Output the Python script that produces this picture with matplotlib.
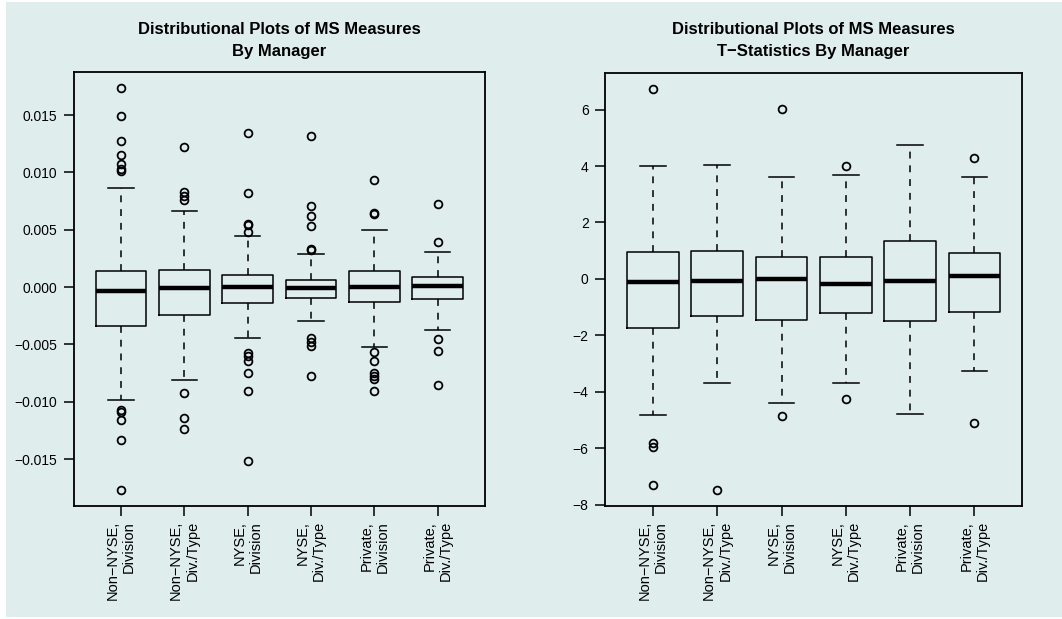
import numpy as np
import matplotlib
matplotlib.use("Agg")
import matplotlib.pyplot as plt
from matplotlib.patches import Rectangle

plt.rcParams['font.family'] = ['Liberation Sans', 'DejaVu Sans']

groups = ["Non\u2212NYSE,\nDivision", "Non\u2212NYSE,\nDiv./Type", "NYSE,\nDivision",
          "NYSE,\nDiv./Type", "Private,\nDivision", "Private,\nDiv./Type"]

# MS measures: five-number summaries and outliers per group
ms_whislo = [-0.00982, -0.00813, -0.00441, -0.00295, -0.00522, -0.00373]
ms_q1     = [-0.00338, -0.00242, -0.00143, -0.00091, -0.00131, -0.00108]
ms_med    = [-0.00038, -0.00012,  0.00000, -0.00012,  0.00000,  0.00005]
ms_q3     = [ 0.00142,  0.00149,  0.00105,  0.00066,  0.00140,  0.00084]
ms_whishi = [ 0.00865,  0.00667,  0.00446,  0.00288,  0.00501,  0.00309]
ms_fliers = [
    [0.01733, 0.01495, 0.01276, 0.01154, 0.01072, 0.01030, 0.01011,
     -0.01073, -0.01090, -0.01157, -0.01335, -0.01769],
    [0.01218, 0.00830, 0.00792, 0.00760, -0.00924, -0.01140, -0.01236],
    [0.01340, 0.00822, 0.00553, 0.00539, 0.00481,
     -0.00577, -0.00598, -0.00644, -0.00752, -0.00907, -0.01521],
    [0.01314, 0.00705, 0.00617, 0.00533, 0.00332, 0.00320,
     -0.00441, -0.00475, -0.00510, -0.00778],
    [0.00935, 0.00641, 0.00645,
     -0.00568, -0.00644, -0.00752, -0.00775, -0.00800, -0.00909],
    [0.00728, 0.00390, -0.00449, -0.00557, -0.00854],
]

# T-statistics of MS measures
ts_whislo = [-4.82, -3.68, -4.40, -3.68, -4.78, -3.28]
ts_q1     = [-1.74, -1.31, -1.44, -1.21, -1.49, -1.16]
ts_med    = [-0.10, -0.08, -0.02, -0.18, -0.08,  0.10]
ts_q3     = [ 0.97,  0.98,  0.76,  0.77,  1.36,  0.92]
ts_whishi = [ 4.00,  4.04,  3.62,  3.67,  4.75,  3.61]
ts_fliers = [
    [6.74, -5.83, -5.95, -7.29],
    [-7.48],
    [6.02, -4.87],
    [4.01, -4.25],
    [],
    [4.28, -5.10],
]


def make_stats(lo, q1, med, q3, hi, fl):
    return [dict(whislo=a, q1=b, med=c, q3=d, whishi=e, fliers=f)
            for a, b, c, d, e, f in zip(lo, q1, med, q3, hi, fl)]


def draw_panel(ax, stats, title, yticks, ylabels):
    ax.set_facecolor('none')
    ax.bxp(stats, positions=range(1, 7), widths=0.8, capwidths=0.4,
           boxprops=dict(color='black', linewidth=1.1),
           medianprops=dict(color='black', linewidth=3.2, solid_capstyle='butt'),
           whiskerprops=dict(color='black', linewidth=1.1, linestyle=(0, (4.5, 4.5))),
           capprops=dict(color='black', linewidth=1.1),
           flierprops=dict(marker='o', markerfacecolor='none', markeredgecolor='black',
                           markersize=5.6, markeredgewidth=1.3),
           manage_ticks=False)
    vals = []
    for s in stats:
        vals += [s['whislo'], s['whishi']] + list(s['fliers'])
    lo, hi = min(vals), max(vals)
    pad = 0.04 * (hi - lo)
    ax.set_ylim(lo - pad, hi + pad)
    ax.set_xlim(0.26, 6.74)
    ax.set_xticks(range(1, 7))
    ax.set_xticklabels(groups, rotation=90, ha='center', va='top',
                       multialignment='right', fontsize=10.5, linespacing=1.2)
    ax.set_yticks(yticks)
    ax.set_yticklabels(ylabels, fontsize=10)
    ax.tick_params(axis='both', direction='out', length=7, width=1.1, color='black')
    ax.tick_params(axis='x', pad=4)
    ax.tick_params(axis='y', pad=5)
    for sp in ax.spines.values():
        sp.set_linewidth(1.3)
    ax.set_title(title, fontsize=12, fontweight='bold', pad=12, linespacing=1.55)


fig = plt.figure(figsize=(10.62, 6.19), dpi=100, facecolor='white')
fig.patches.append(Rectangle((6 / 1062, 2 / 619), 1 - 6 / 1062, 1 - 4 / 619,
                             transform=fig.transFigure, facecolor='#e0eded',
                             edgecolor='none', zorder=-10))

ax1 = fig.add_axes([0.0697, 0.1826, 0.3867, 0.7006])
ax2 = fig.add_axes([0.5700, 0.1826, 0.3923, 0.7000])

ms_ticks = [-0.015, -0.010, -0.005, 0.000, 0.005, 0.010, 0.015]
draw_panel(ax1, make_stats(ms_whislo, ms_q1, ms_med, ms_q3, ms_whishi, ms_fliers),
           "Distributional Plots of MS Measures\nBy Manager",
           ms_ticks, ["\u22120.015", "\u22120.010", "\u22120.005", "0.000", "0.005", "0.010", "0.015"])

ts_ticks = [-8, -6, -4, -2, 0, 2, 4, 6]
draw_panel(ax2, make_stats(ts_whislo, ts_q1, ts_med, ts_q3, ts_whishi, ts_fliers),
           "Distributional Plots of MS Measures\nT\u2212Statistics By Manager",
           ts_ticks, ["\u22128", "\u22126", "\u22124", "\u22122", "0", "2", "4", "6"])

fig.savefig("out.png", dpi=100, facecolor=fig.get_facecolor())
